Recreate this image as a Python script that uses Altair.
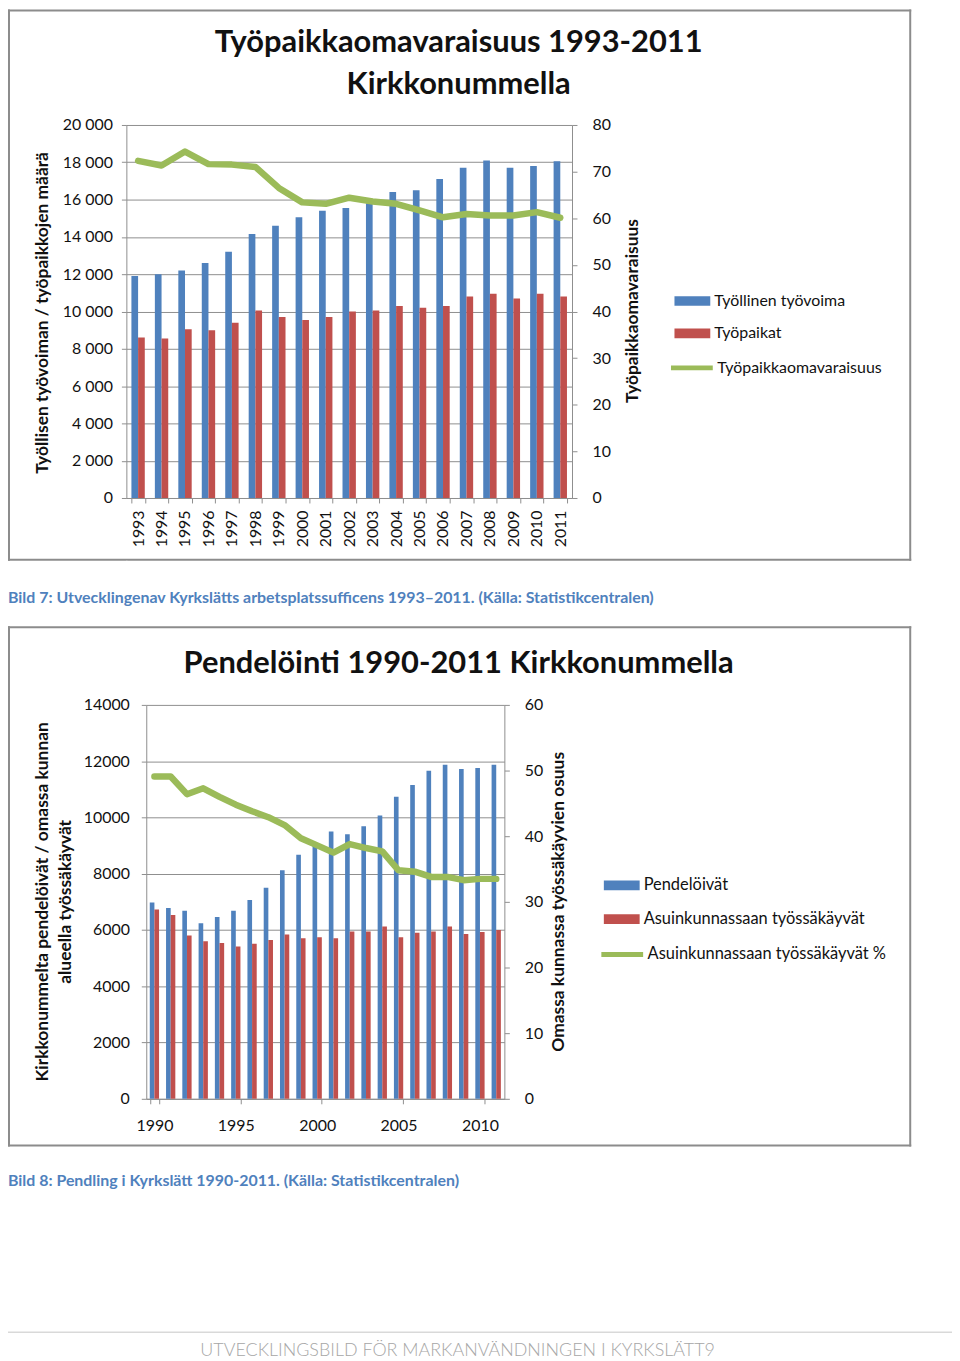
import altair as alt
import pandas as pd

FONT = "Lato"
BLUE, RED, GREEN = "#4F81BD", "#C0504D", "#9BBB59"
GRID = "#8E8E8E"
BORDER = "#8C8C8C"
INK = "#111111"
CAPTION = "#4F81BD"

# ---------------- data: chart 1 ----------------
years_a = [1993, 1994, 1995, 1996, 1997, 1998, 1999, 2000, 2001, 2002,
           2003, 2004, 2005, 2006, 2007, 2008, 2009, 2010, 2011]
labour_force = [11900, 12000, 12200, 12600, 13200, 14150, 14600, 15050, 15400, 15550,
                15800, 16400, 16500, 17100, 17700, 18100, 17700, 17800, 18050]
jobs = [8600, 8550, 9050, 9000, 9400, 10050, 9700, 9550, 9700, 10000,
        10050, 10300, 10200, 10300, 10800, 10950, 10700, 10950, 10800]
self_sufficiency = [72.3, 71.3, 74.3, 71.6, 71.5, 71.0, 66.5, 63.4, 63.1, 64.4,
                    63.6, 63.1, 61.7, 60.2, 60.9, 60.6, 60.6, 61.3, 60.1]
series_a = ["Työllinen työvoima", "Työpaikat"]
line_a_name = "Työpaikkaomavaraisuus"

# ---------------- data: chart 2 ----------------
years_b = [1990, 1991, 1992, 1993, 1994, 1995, 1996, 1997, 1998, 1999, 2000,
           2001, 2002, 2003, 2004, 2005, 2006, 2007, 2008, 2009, 2010, 2011]
out_commuters = [6980, 6780, 6680, 6240, 6460, 6680, 7070, 7500, 8120, 8670, 9000,
                 9500, 9400, 9690, 10070, 10740, 11150, 11660, 11870, 11720, 11760, 11870]
local_workers = [6730, 6530, 5800, 5600, 5540, 5410, 5510, 5640, 5840, 5710, 5740,
                 5710, 5950, 5950, 6120, 5740, 5900, 5950, 6120, 5860, 5930, 6000]
local_share = [49.1, 49.1, 46.4, 47.3, 46.0, 44.8, 43.8, 42.9, 41.7, 39.7, 38.6,
               37.5, 38.8, 38.2, 37.7, 34.8, 34.6, 33.8, 33.8, 33.3, 33.5, 33.5]
series_b = ["Pendelöivät", "Asuinkunnassaan työssäkäyvät"]
line_b_name = "Asuinkunnassaan työssäkäyvät %"

# ---------------- tables ----------------
na, nb = len(years_a), len(years_b)
bars_a = pd.DataFrame({"year": years_a * 2,
                       "series": [series_a[0]] * na + [series_a[1]] * na,
                       "value": labour_force + jobs})
line_a = pd.DataFrame({"year": years_a, "series": [line_a_name] * na, "pct": self_sufficiency})
bars_b = pd.DataFrame({"year": years_b * 2,
                       "series": [series_b[0]] * nb + [series_b[1]] * nb,
                       "value": out_commuters + local_workers})
line_b = pd.DataFrame({"year": years_b, "series": [line_b_name] * nb, "pct": local_share})
one = pd.DataFrame({"k": [0]})

RECT_SYMBOL = "M-1,-0.27L1,-0.27L1,0.27L-1,0.27Z"
TITLE_SIZE = 31
AXIS_TITLE = 17.5


def txt(s, x, y, size, weight="normal", color=INK, angle=0, align="center",
        baseline="alphabetic"):
    kw = dict(font=FONT, fontSize=size, fontWeight=weight, color=color,
              align=align, baseline=baseline)
    if angle:
        kw["angle"] = angle
    return alt.Chart(one).mark_text(**kw).encode(
        x=alt.value(x), y=alt.value(y), text=alt.value(s))


def block(x, x2, y, y2, color):
    # filled rectangle without stroke (exact bounds)
    return alt.Chart(one).mark_rect(color=color, strokeWidth=0).encode(
        x=alt.value(x), x2=alt.value(x2), y=alt.value(y), y2=alt.value(y2))


def frame(x, x2, y, y2, sw=2):
    return [block(x, x2, y, y + sw, BORDER),
            block(x, x2, y2 - sw, y2, BORDER),
            block(x, x + sw, y, y2, BORDER),
            block(x2 - sw, x2, y, y2, BORDER)]


def bar_legend(lx, ly, rp, size):
    return alt.Legend(title=None, orient="none", legendX=lx, legendY=ly,
                      symbolType=RECT_SYMBOL, symbolSize=1296, symbolStrokeWidth=0,
                      labelFont=FONT, labelFontSize=size, labelColor=INK,
                      labelLimit=400, rowPadding=rp, labelOffset=4, padding=0)


def line_legend(lx, ly, size):
    return alt.Legend(title=None, orient="none", legendX=lx, legendY=ly,
                      symbolType="stroke", symbolSize=1764, symbolStrokeWidth=5,
                      labelFont=FONT, labelFontSize=size, labelColor=INK,
                      labelLimit=400, labelOffset=2, padding=0)


# ---------------- panel 1 (plot origin at page x=127, y=124) ----------------
W1, H1 = 448, 375
x_a = alt.X("year:O", title=None,
            scale=alt.Scale(paddingInner=0.43, paddingOuter=0.215),
            axis=alt.Axis(labelAngle=270, labelFontSize=16, labelPadding=7,
                          tickBand="extent", tickSize=5))

bars1 = alt.Chart(bars_a).mark_bar().encode(
    x=x_a,
    xOffset=alt.XOffset("series:N", sort=series_a,
                        scale=alt.Scale(domain=series_a, paddingInner=0, paddingOuter=0)),
    y=alt.Y("value:Q", title=None, scale=alt.Scale(domain=[0, 20000]),
            axis=alt.Axis(values=list(range(0, 20001, 2000)), grid=True,
                          labelExpr="replace(format(datum.value, ','), ',', ' ')",
                          labelFontSize=16, labelPadding=9, tickSize=5)),
    fill=alt.Fill("series:N", sort=series_a,
                  scale=alt.Scale(domain=series_a, range=[BLUE, RED]),
                  legend=bar_legend(551, 159, 6.5, 16)),
)

line1 = alt.Chart(line_a).mark_line(strokeWidth=6.5, strokeCap="round",
                                    strokeJoin="round").encode(
    x=alt.X("year:O"),
    y=alt.Y("pct:Q", title=None, scale=alt.Scale(domain=[0, 80]),
            axis=alt.Axis(orient="right", values=list(range(0, 81, 10)), grid=False,
                          labelFontSize=16, labelPadding=15, tickSize=5)),
    stroke=alt.Stroke("series:N", scale=alt.Scale(domain=[line_a_name], range=[GREEN]),
                      legend=line_legend(545, 220.7, 16)),
)

deco1 = frame(-119, 789, -116, 438) + [
    txt("Työpaikkaomavaraisuus 1993-2011", 334, -73, TITLE_SIZE, "bold"),
    txt("Kirkkonummella", 334, -31, TITLE_SIZE, "bold"),
    txt("Työllisen työvoiman / työpaikkojen määrä", -84, 189, AXIS_TITLE, "bold",
        angle=270, baseline="middle"),
    txt("Työpaikkaomavaraisuus", 509, 187, AXIS_TITLE, "bold", angle=270,
        baseline="middle"),
]

panel1 = alt.layer(*deco1, bars1, line1).resolve_scale(y="independent").properties(
    width=W1, height=H1)

# ---------------- panel 2 (group origin at page x=127, y=705; plot starts at +20) ----------------
W2, H2 = 380, 396
INSET = 20
x_b = alt.X("year:O", title=None,
            scale=alt.Scale(paddingInner=0.43, paddingOuter=0.215, range=[INSET, W2]),
            axis=alt.Axis(labelAngle=0, values=[1990, 1995, 2000, 2005, 2010],
                          labelFontSize=16, labelPadding=14, tickBand="extent",
                          tickSize=5))

bars2 = alt.Chart(bars_b).mark_bar().encode(
    x=x_b,
    xOffset=alt.XOffset("series:N", sort=series_b,
                        scale=alt.Scale(domain=series_b, paddingInner=0, paddingOuter=0)),
    y=alt.Y("value:Q", title=None, scale=alt.Scale(domain=[0, 14000]),
            axis=alt.Axis(values=list(range(0, 14001, 2000)), grid=True, format="d",
                          labelFontSize=16, labelPadding=12, tickSize=5,
                          offset=-INSET)),
    fill=alt.Fill("series:N", sort=series_b,
                  scale=alt.Scale(domain=series_b, range=[BLUE, RED]),
                  legend=bar_legend(480, 163.4, 7, 16.5)),
)

line2 = alt.Chart(line_b).mark_line(strokeWidth=6.5, strokeCap="round",
                                    strokeJoin="round").encode(
    x=alt.X("year:O"),
    y=alt.Y("pct:Q", title=None, scale=alt.Scale(domain=[0, 60]),
            axis=alt.Axis(orient="right", values=list(range(0, 61, 10)), grid=False,
                          labelFontSize=16, labelPadding=15, tickSize=5)),
    stroke=alt.Stroke("series:N", scale=alt.Scale(domain=[line_b_name], range=[GREEN]),
                      legend=line_legend(475, 227.4, 16.5)),
)

deco2 = [block(0, 1, -145, -144, "white")] + [
    txt("Bild 7: Utvecklingenav Kyrkslätts  arbetsplatssufficens 1993–2011. (Källa: Statistikcentralen)",
        -119, -102, 16, "bold", color=CAPTION, align="left"),
] + frame(-119, 789, -79, 444) + [
    txt("Pendelöinti 1990-2011 Kirkkonummella", 334, -32, TITLE_SIZE, "bold"),
    txt("Kirkkonummelta pendelöivät / omassa kunnan", -84, 198, AXIS_TITLE, "bold",
        angle=270, baseline="middle"),
    txt("alueella työssäkäyvät", -61, 198, AXIS_TITLE, "bold", angle=270,
        baseline="middle"),
    txt("Omassa kunnassa työssäkäyvien osuus", 435, 198, AXIS_TITLE, "bold",
        angle=270, baseline="middle"),
    txt("Bild 8: Pendling i Kyrkslätt 1990-2011. (Källa: Statistikcentralen)",
        -119, 484, 16, "bold", color=CAPTION, align="left"),
    block(-119, 830, 630, 631.5, "#D9D9D9"),
    alt.Chart(one).mark_text(font=FONT, fontSize=18, fontWeight=300, color="#A6A6A6",
                             align="center", baseline="alphabetic").encode(
        x=alt.value(333), y=alt.value(655),
        text=alt.value("UTVECKLINGSBILD FÖR MARKANVÄNDNINGEN I KYRKSLÄTT9")),
]

panel2 = alt.layer(*deco2, bars2, line2).resolve_scale(y="independent").properties(
    width=W2, height=H2)

chart = alt.vconcat(panel1, panel2, spacing=0).resolve_scale(
    fill="independent", stroke="independent", xOffset="independent"
).properties(
    padding={"top": -2, "left": 0, "right": 0, "bottom": 0}, background="white"
).configure_view(strokeWidth=0).configure_axis(
    domainColor=GRID, tickColor=GRID, gridColor=GRID, gridWidth=1,
    labelFont=FONT, labelColor=INK, titleFont=FONT
)

chart.save("out.html", embed_options={"renderer": "svg", "actions": False})
